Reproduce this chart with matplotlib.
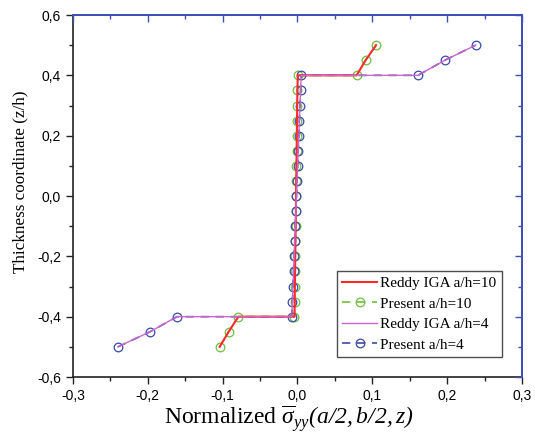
import numpy as np
import matplotlib
matplotlib.use("Agg")
import matplotlib.pyplot as plt
from matplotlib.ticker import MultipleLocator, FuncFormatter

# espesor z/h (capa inferior, nucleo, capa superior)
z_bot = [-0.5, -0.45, -0.4]
z_core = [-0.4, -0.35, -0.3, -0.25, -0.2, -0.15, -0.1, -0.05, 0.0,
          0.05, 0.1, 0.15, 0.2, 0.25, 0.3, 0.35, 0.4]
z_top = [0.4, 0.45, 0.5]

# a/h = 10
s10_bot = [-0.104, -0.092, -0.079]
s10_core = [-0.0040, -0.0037, -0.0035, -0.0032, -0.0030, -0.0027, -0.0024, -0.0022, -0.0019,
            -0.0017, -0.0014, -0.0011, -0.0009, -0.0006, -0.0004, -0.0001, 0.0004]
s10_top = [0.079, 0.091, 0.105]

# a/h = 4
s4_bot = [-0.240, -0.197, -0.161]
s4_core = [-0.0076, -0.0068, -0.0060, -0.0053, -0.0045, -0.0037, -0.0029, -0.0021, -0.0014,
           -0.0006, 0.0002, 0.0010, 0.0018, 0.0025, 0.0033, 0.0041, 0.0049]
s4_top = [0.161, 0.197, 0.238]

z_all = z_bot + z_core + z_top
s10 = s10_bot + s10_core + s10_top
s4 = s4_bot + s4_core + s4_top

plt.rcParams['font.family'] = ['Liberation Serif', 'DejaVu Serif']
plt.rcParams['mathtext.fontset'] = 'custom'
plt.rcParams['mathtext.rm'] = 'Liberation Serif:italic'
plt.rcParams['mathtext.it'] = 'Liberation Serif:italic'

fig = plt.figure(figsize=(5.35, 4.44), dpi=100)
ax = fig.add_axes([0.1364, 0.1509, 0.8393, 0.8153])

ax.plot(s10, z_all, '-', color='#ff2a2a', lw=1.5, label='Reddy IGA a/h=10', zorder=5)
ax.plot(s10, z_all, '--', color='#6cc040', lw=1.2, marker='o', ms=6.2, mfc='none',
        mec='#6cc040', mew=0.9, dashes=(5, 4), label='Present a/h=10', zorder=2)
ax.plot(s4, z_all, '-', color='#cc66cc', lw=1.0, label='Reddy IGA a/h=4', zorder=6)
ax.plot(s4, z_all, '--', color='#3a4aa8', lw=1.2, marker='o', ms=6.2, mfc='none',
        mec='#3a4aa8', mew=0.9, dashes=(5, 4), label='Present a/h=4', zorder=3)

ax.set_xlim(-0.3, 0.3)
ax.set_ylim(-0.6, 0.6)
ax.xaxis.set_major_locator(MultipleLocator(0.1))
ax.xaxis.set_minor_locator(MultipleLocator(0.05))
ax.yaxis.set_major_locator(MultipleLocator(0.2))
ax.yaxis.set_minor_locator(MultipleLocator(0.1))
fmt = FuncFormatter(lambda v, p: ('%.1f' % v).replace('.', ',').replace('-0,0', '0,0'))
ax.xaxis.set_major_formatter(fmt)
ax.yaxis.set_major_formatter(fmt)

blue = '#3f51b5'
for s in ['left', 'bottom']:
    ax.spines[s].set_color('#222222')
    ax.spines[s].set_linewidth(1.2)
for s in ['top', 'right']:
    ax.spines[s].set_color(blue)
    ax.spines[s].set_linewidth(1.2)

ax.tick_params(which='both', direction='out', top=False, right=False,
               labelsize=10, color='#222222', width=1.0)
ax.tick_params(which='major', length=5)
ax.tick_params(which='minor', length=3)
for lab in ax.get_xticklabels() + ax.get_yticklabels():
    lab.set_family('Liberation Sans')

ax2 = ax.twinx()
ax2.set_ylim(-0.6, 0.6)
ax2.yaxis.set_major_locator(MultipleLocator(0.2))
ax2.yaxis.set_minor_locator(MultipleLocator(0.1))
ax2.tick_params(which='both', direction='in', labelright=False, color=blue, width=1.0)
ax2.tick_params(which='major', length=5)
ax2.tick_params(which='minor', length=3)
ax3 = ax.twiny()
ax3.set_xlim(-0.3, 0.3)
ax3.xaxis.set_major_locator(MultipleLocator(0.1))
ax3.xaxis.set_minor_locator(MultipleLocator(0.05))
ax3.tick_params(which='both', direction='in', labeltop=False, color=blue, width=1.0)
ax3.tick_params(which='major', length=5)
ax3.tick_params(which='minor', length=3)
for a in (ax2, ax3):
    for s in ['top', 'right']:
        a.spines[s].set_color(blue)
        a.spines[s].set_linewidth(1.2)
    for s in ['left', 'bottom']:
        a.spines[s].set_visible(False)

ax.set_ylabel('Thickness coordinate (z/h)', fontsize=12.3)
ax.yaxis.set_label_coords(-0.1, 0.54)
ax.set_xlabel(r'Normalized $\overline{\sigma}_{yy}(a/2,b/2,z)$', fontsize=17)
ax.xaxis.set_label_coords(0.481, -0.074)

leg = ax.legend(loc='lower right', bbox_to_anchor=(0.955, 0.055), fontsize=11,
                frameon=True, fancybox=False, edgecolor='#222222', handlelength=2.3,
                handletextpad=0.2, borderpad=0.35, labelspacing=0.45, borderaxespad=0)
leg.get_frame().set_linewidth(1.0)

fig.savefig('out.png', dpi=100)
